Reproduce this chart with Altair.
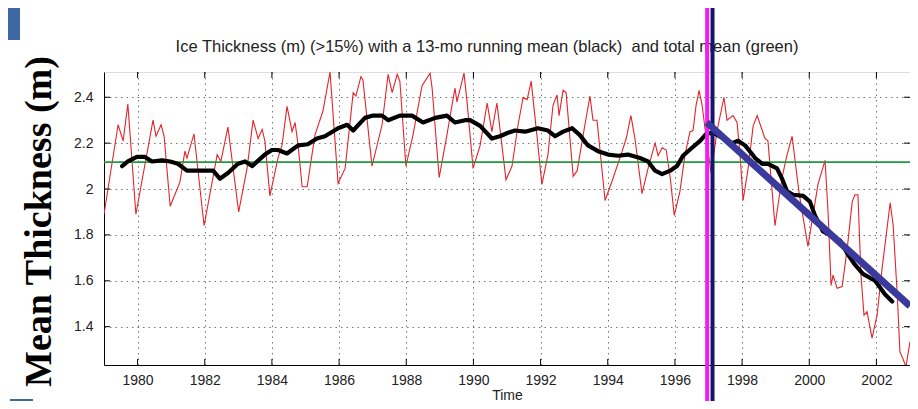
import altair as alt
import pandas as pd

# ---------------- data ----------------
red_year = [1979.00, 1979.42, 1979.57, 1979.71, 1979.95, 1980.46, 1980.55, 1980.70, 1980.79, 1980.97,
            1981.26, 1981.41, 1981.47, 1981.68, 1981.98, 1982.37, 1982.48, 1982.69, 1983.01, 1983.26,
            1983.44, 1983.59, 1983.71, 1983.79, 1983.94, 1984.18, 1984.30, 1984.45, 1984.60, 1984.69,
            1984.78, 1984.90, 1985.05, 1985.28, 1985.52, 1985.73, 1985.97, 1986.18, 1986.42, 1986.50,
            1986.65, 1986.71, 1986.98, 1987.28, 1987.46, 1987.58, 1987.73, 1987.81, 1987.99, 1988.20,
            1988.47, 1988.71, 1988.77, 1988.98, 1989.21, 1989.45, 1989.51, 1989.72, 1989.81, 1989.99,
            1990.20, 1990.41, 1990.55, 1990.70, 1990.97, 1991.15, 1991.33, 1991.48, 1991.60, 1991.72,
            1991.89, 1992.04, 1992.22, 1992.37, 1992.49, 1992.55, 1992.67, 1992.76, 1992.97, 1993.09,
            1993.32, 1993.47, 1993.56, 1993.68, 1993.92, 1994.13, 1994.43, 1994.55, 1994.69, 1994.81,
            1995.02, 1995.20, 1995.41, 1995.50, 1995.62, 1995.74, 1995.86, 1995.98, 1996.15, 1996.30,
            1996.45, 1996.54, 1996.63, 1996.72, 1996.81, 1996.96, 1997.08, 1997.25, 1997.46, 1997.55,
            1997.73, 1997.85, 1997.94, 1998.03, 1998.18, 1998.33, 1998.45, 1998.60, 1998.68, 1998.77,
            1998.98, 1999.19, 1999.34, 1999.49, 1999.64, 1999.70, 1999.96, 2000.11, 2000.26, 2000.47,
            2000.56, 2000.65, 2000.71, 2000.83, 2000.98, 2001.13, 2001.28, 2001.36, 2001.45, 2001.54,
            2001.63, 2001.72, 2001.87, 2002.02, 2002.17, 2002.41, 2002.50, 2002.62, 2002.70, 2002.79,
            2002.88, 2003.00]
red_val = [1.89, 2.28, 2.21, 2.37, 1.89, 2.30, 2.23, 2.28, 2.23, 1.925,
           2.03, 2.165, 2.135, 2.24, 1.84, 2.15, 2.12, 2.27, 1.90, 2.09,
           2.30, 2.22, 2.26, 2.21, 1.97, 2.135, 2.19, 2.36, 2.25, 2.29,
           2.19, 2.01, 2.01, 2.235, 2.34, 2.51, 2.025, 2.09, 2.42, 2.405,
           2.49, 2.475, 2.10, 2.28, 2.50, 2.42, 2.50, 2.47, 2.10, 2.235,
           2.45, 2.505, 2.44, 2.05, 2.235, 2.44, 2.38, 2.505, 2.38, 2.09,
           2.19, 2.375, 2.25, 2.375, 2.04, 2.10, 2.28, 2.40, 2.39, 2.47,
           2.235, 2.02, 2.15, 2.365, 2.41, 2.32, 2.43, 2.42, 2.055, 2.08,
           2.28, 2.405, 2.30, 2.30, 1.95, 2.035, 2.165, 2.22, 2.32, 2.22,
           1.98, 2.09, 2.20, 2.145, 2.18, 2.17, 2.05, 1.885, 1.99, 2.15,
           2.25, 2.255, 2.365, 2.43, 2.365, 2.19, 2.07, 2.25, 2.40, 2.30,
           2.32, 2.29, 2.15, 1.95, 2.09, 2.275, 2.32, 2.255, 2.22, 2.21,
           1.84, 2.05, 2.15, 2.23, 2.05, 1.98, 1.75, 1.885, 2.02, 2.125,
           1.90, 1.58, 1.625, 1.567, 1.575, 1.74, 1.945, 1.975, 1.975, 1.625,
           1.45, 1.465, 1.35, 1.45, 1.655, 1.94, 1.84, 1.54, 1.29, 1.26,
           1.225, 1.335]

mean_year = [1979.54, 1979.71, 1979.98, 1980.22, 1980.43, 1980.73, 1980.97, 1981.20, 1981.47, 1981.77,
             1982.07, 1982.25, 1982.45, 1982.69, 1982.99, 1983.20, 1983.41, 1983.79, 1984.00, 1984.18,
             1984.45, 1984.78, 1985.07, 1985.34, 1985.58, 1985.97, 1986.24, 1986.42, 1986.77, 1987.01,
             1987.28, 1987.46, 1987.81, 1988.17, 1988.50, 1988.86, 1989.21, 1989.45, 1989.75, 1989.90,
             1990.20, 1990.55, 1990.79, 1991.03, 1991.24, 1991.54, 1991.92, 1992.22, 1992.43, 1992.67,
             1992.94, 1993.17, 1993.41, 1993.71, 1994.01, 1994.31, 1994.60, 1994.96, 1995.20, 1995.41,
             1995.62, 1995.86, 1996.06, 1996.24, 1996.51, 1996.75, 1996.96, 1997.20, 1997.45, 1997.70,
             1997.88, 1998.09, 1998.39, 1998.60, 1998.77, 1999.04, 1999.19, 1999.34, 1999.52, 1999.82,
             2000.02, 2000.17, 2000.41, 2000.68, 2000.92, 2001.13, 2001.36, 2001.60, 2001.96, 2002.26,
             2002.47]
mean_val = [2.10, 2.12, 2.14, 2.14, 2.12, 2.125, 2.12, 2.11, 2.08, 2.08,
            2.08, 2.08, 2.045, 2.07, 2.11, 2.12, 2.10, 2.15, 2.17, 2.17,
            2.155, 2.19, 2.195, 2.22, 2.23, 2.265, 2.28, 2.255, 2.31, 2.32,
            2.32, 2.30, 2.32, 2.32, 2.29, 2.31, 2.32, 2.29, 2.30, 2.30,
            2.275, 2.22, 2.23, 2.245, 2.255, 2.25, 2.265, 2.255, 2.23, 2.25,
            2.265, 2.235, 2.19, 2.165, 2.15, 2.145, 2.15, 2.135, 2.12, 2.08,
            2.065, 2.08, 2.10, 2.145, 2.18, 2.21, 2.245, 2.24, 2.22, 2.20,
            2.21, 2.19, 2.135, 2.11, 2.11, 2.09, 2.045, 1.99, 1.975, 1.97,
            1.945, 1.885, 1.815, 1.795, 1.775, 1.72, 1.67, 1.63, 1.60, 1.54,
            1.51]

total_mean = [2.117]
trend_year = [1996.95, 2003.0]
trend_val = [2.29, 1.49]
marker_year = [1996.96, 1997.12]
marker_name = ["magenta", "navy"]
x_ticks = [1980, 1982, 1984, 1986, 1988, 1990, 1992, 1994, 1996, 1998, 2000, 2002]
y_ticks = [1.4, 1.6, 1.8, 2.0, 2.2, 2.4]
title_text = "Ice Thickness (m) (>15%) with a 13-mo running mean (black)\u00a0 and total mean (green)"

W, H = 806, 293
xs = alt.Scale(domain=[1979, 2003], nice=False, zero=False)
ys = alt.Scale(domain=[1.233, 2.51], nice=False, zero=False)

df_red = pd.DataFrame({"year": red_year, "val": red_val})
df_mean = pd.DataFrame({"year": mean_year, "val": mean_val})
df_tm = pd.DataFrame({"val": total_mean})
df_trend = pd.DataFrame({"year": trend_year, "val": trend_val})
df_mark = pd.DataFrame({"year": marker_year, "name": marker_name})
df_xt = pd.DataFrame({"year": x_ticks})
df_yt = pd.DataFrame({"val": y_ticks})
df_title = pd.DataFrame({"t": [title_text]})

red = alt.Chart(df_red).mark_line(color="#e3242b", strokeWidth=1.1, clip=True).encode(
    x=alt.X("year:Q", scale=xs,
            axis=alt.Axis(values=x_ticks, format="d", title="Time", grid=True,
                          gridDash=[1.5, 4], gridColor="#777", gridWidth=1,
                          tickSize=0, labelPadding=8, labelFontSize=14,
                          labelFont="Liberation Sans", labelColor="#222",
                          titleFont="Liberation Sans", titleFontSize=14,
                          titleFontWeight="normal", titleColor="#222",
                          titleY=34, titleBaseline="alphabetic",
                          domainColor="black")),
    y=alt.Y("val:Q", scale=ys,
            axis=alt.Axis(values=y_ticks, format="~g", title="Mean Thickness (m)", grid=True,
                          gridDash=[1.5, 4], gridColor="#777", gridWidth=1,
                          tickSize=0, labelPadding=11, labelFontSize=14,
                          labelFont="Liberation Sans", labelColor="#222",
                          titleFont="Liberation Serif", titleFontSize=38,
                          titleFontWeight="bold", titleColor="black",
                          titleX=-46, titleY=149, titleAlign="center",
                          titleBaseline="bottom", domainColor="black")),
)

green = alt.Chart(df_tm).mark_rule(color="#1f9a3c", strokeWidth=1.6).encode(
    y=alt.Y("val:Q", scale=ys))

black = alt.Chart(df_mean).mark_line(color="black", strokeWidth=4.2, strokeJoin="round",
                                     strokeCap="round").encode(
    x=alt.X("year:Q", scale=xs), y=alt.Y("val:Q", scale=ys))

xt_bot = alt.Chart(df_xt).mark_rule(color="black").encode(
    x=alt.X("year:Q", scale=xs), y=alt.value(H), y2=alt.value(H - 6))
xt_top = alt.Chart(df_xt).mark_rule(color="black").encode(
    x=alt.X("year:Q", scale=xs), y=alt.value(0), y2=alt.value(6))
yt_left = alt.Chart(df_yt).mark_rule(color="black").encode(
    y=alt.Y("val:Q", scale=ys), x=alt.value(0), x2=alt.value(6))
yt_right = alt.Chart(df_yt).mark_rule(color="black").encode(
    y=alt.Y("val:Q", scale=ys), x=alt.value(W), x2=alt.value(W - 6))

title = alt.Chart(df_title).mark_text(font="Liberation Sans", fontSize=16.5, color="#222",
                                      align="center", baseline="middle").encode(
    text="t:N", x=alt.value(383), y=alt.value(-25))

markers = alt.Chart(df_mark).mark_rule(strokeWidth=4).encode(
    x=alt.X("year:Q", scale=xs),
    y=alt.value(-64), y2=alt.value(H + 36),
    color=alt.Color("name:N", scale=alt.Scale(domain=marker_name,
                                              range=["#f21cf2", "#15166b"]), legend=None))

trend = alt.Chart(df_trend).mark_line(color="#3a3a9c", strokeWidth=7).encode(
    x=alt.X("year:Q", scale=xs), y=alt.Y("val:Q", scale=ys))

deco = pd.DataFrame({"k": [0]})
rect_top = alt.Chart(deco).mark_rect(color="#3d68a3").encode(
    x=alt.value(-96), x2=alt.value(-84), y=alt.value(-64), y2=alt.value(-32))
rect_bot = alt.Chart(deco).mark_rect(color="#3d68a3").encode(
    x=alt.value(-94), x2=alt.value(-71), y=alt.value(H + 34), y2=alt.value(H + 44))

chart = alt.layer(
    red, green, black, xt_bot, xt_top, yt_left, yt_right, title, markers, trend,
    rect_top, rect_bot
).properties(
    width=W, height=H,
    autosize=alt.AutoSizeParams(type="none"),
    padding={"left": 96, "top": 64, "right": 0, "bottom": 36},
).configure_view(stroke="black", strokeWidth=1).configure(background="white")

chart.save("out.html", embed_options={"renderer": "svg", "actions": False})
